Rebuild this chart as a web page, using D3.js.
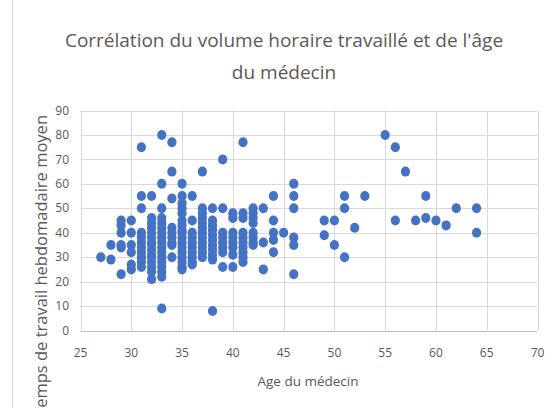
<!DOCTYPE html>
<meta charset="utf-8">
<style>
  body { margin: 0; background: #fff; }
  text { font-family: "Open Sans", "Noto Sans", sans-serif; fill: #595959; }
</style>
<body>
<script src="https://d3js.org/d3.v7.min.js"></script>
<script>

var width = 559,
    height = 408;

// ages (x) and the weekly hours observed at each age (y)
var ageGroups = [27, 28, 29, 30, 31, 32, 33, 34, 35, 36, 37, 38, 39, 40, 41, 42, 43, 44, 45, 46,
                 49, 50, 51, 52, 53, 55, 56, 57, 58, 59, 60, 61, 62, 64];
var hoursByAge = [
  [30],
  [35, 29],
  [45, 43, 40, 35, 34, 23],
  [45, 40, 35, 32, 27, 25],
  [75, 55, 50, 40, 38, 36, 34, 32, 30, 28, 26],
  [55, 46, 44, 42, 40, 38, 36, 35, 33, 31, 30, 28, 26, 24, 21],
  [80, 60, 50, 46, 44, 42, 40, 38, 36, 34, 32, 30, 28, 26, 24, 22, 9],
  [77, 65, 54, 42, 40, 38, 36, 35, 30],
  [60, 55, 52, 50, 48, 45, 43, 41, 40, 38, 36, 34, 32, 30, 28, 26, 25],
  [55, 45, 40, 38, 36, 34, 32, 30, 28, 27],
  [65, 50, 48, 46, 44, 42, 40, 38, 36, 34, 32, 30],
  [50, 45, 43, 41, 39, 37, 35, 33, 31, 29, 8],
  [70, 50, 40, 38, 36, 34, 32, 26],
  [48, 46, 40, 38, 36, 34, 31, 26],
  [77, 48, 46, 40, 38, 36, 34, 32, 30, 28],
  [50, 48, 46, 44, 40, 38, 36, 35],
  [50, 36, 25],
  [55, 45, 40, 37, 32],
  [40],
  [60, 55, 50, 38, 35, 23],
  [45, 39],
  [45, 35],
  [55, 50, 30],
  [42],
  [55],
  [80],
  [75, 45],
  [65],
  [45],
  [55, 46],
  [45],
  [43],
  [50],
  [50, 40]
];

var xTicks = [25, 30, 35, 40, 45, 50, 55, 60, 65, 70];
var yTicks = [0, 10, 20, 30, 40, 50, 60, 70, 80, 90];

var titleLines = ["Corrélation du volume horaire travaillé et de l'âge", "du médecin"];
var xTitle = "Age du médecin";
var yTitle = "Temps de travail hebdomadaire moyen";

var points = [];
ageGroups.forEach(function(a, i) {
  hoursByAge[i].forEach(function(h) { points.push({age: a, hours: h}); });
});

var svg = d3.select("body").append("svg")
    .attr("width", width)
    .attr("height", height);

var x = d3.scaleLinear().domain([25, 70]).range([80.5, 537.5]);
var y = d3.scaleLinear().domain([0, 90]).range([330.5, 110.5]);

// chart frame edge on the left
svg.append("line")
    .attr("x1", 12.5).attr("x2", 12.5)
    .attr("y1", 0).attr("y2", height)
    .attr("stroke", "#d9d9d9");

// gridlines
svg.append("g").selectAll("line").data(yTicks).join("line")
    .attr("x1", x(25)).attr("x2", x(70))
    .attr("y1", function(d) { return Math.round(y(d)) + 0.5; })
    .attr("y2", function(d) { return Math.round(y(d)) + 0.5; })
    .attr("stroke", function(d) { return d === 0 ? "#bfbfbf" : "#d9d9d9"; });

svg.append("g").selectAll("line").data(xTicks).join("line")
    .attr("x1", function(d) { return Math.round(x(d)) + 0.5; })
    .attr("x2", function(d) { return Math.round(x(d)) + 0.5; })
    .attr("y1", y(90)).attr("y2", y(0))
    .attr("stroke", "#d9d9d9");

// tick labels
svg.append("g").selectAll("text").data(yTicks).join("text")
    .attr("x", 69)
    .attr("y", function(d) { return y(d); })
    .attr("dy", "0.35em")
    .attr("text-anchor", "end")
    .style("font-size", "12px")
    .text(function(d) { return d; });

svg.append("g").selectAll("text").data(xTicks).join("text")
    .attr("x", function(d) { return x(d); })
    .attr("y", 353)
    .attr("dy", "0.35em")
    .attr("text-anchor", "middle")
    .style("font-size", "12px")
    .text(function(d) { return d; });

// points
svg.append("g").selectAll("ellipse").data(points).join("ellipse")
    .attr("cx", function(d) { return x(d.age); })
    .attr("cy", function(d) { return y(d.hours); })
    .attr("rx", 4.6)
    .attr("ry", 5)
    .attr("fill", "#4472c4");

// titles
svg.append("g").selectAll("text").data(titleLines).join("text")
    .attr("x", 284)
    .attr("y", function(d, i) { return 47 + i * 32; })
    .attr("text-anchor", "middle")
    .style("font-size", "19px")
    .text(function(d) { return d; });

svg.append("text")
    .attr("x", 308)
    .attr("y", 386)
    .attr("text-anchor", "middle")
    .style("font-size", "13.5px")
    .text(xTitle);

svg.append("text")
    .attr("transform", "translate(47,115) rotate(-90)")
    .attr("text-anchor", "end")
    .style("font-size", "16.5px")
    .text(yTitle);

</script>
